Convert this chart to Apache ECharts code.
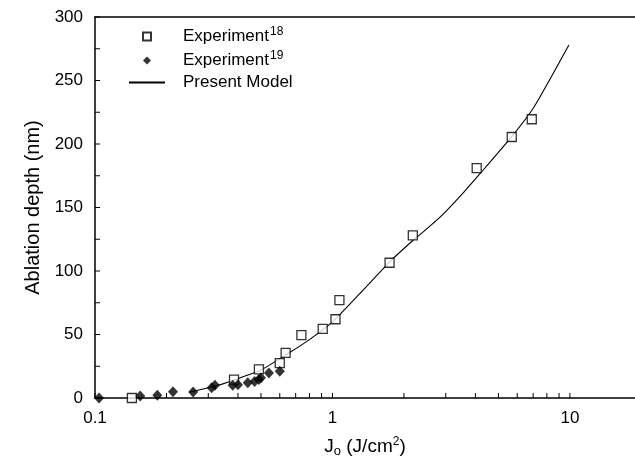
<!DOCTYPE html>
<html>
<head>
<meta charset="utf-8">
<script src="https://cdn.jsdelivr.net/npm/echarts@6/dist/echarts.min.js"></script>
<style>
html,body{margin:0;padding:0;background:#fff;}
#c{width:635px;height:468px;}
</style>
</head>
<body>
<div id="c"></div>
<script>
// ---- data ----
const exp18X = [0.143, 0.385, 0.49, 0.60, 0.635, 0.74, 0.91, 1.03, 1.07, 1.74, 2.18, 4.05, 5.69, 6.91];
const exp18Y = [0, 14.5, 22.5, 27.5, 35.5, 49.5, 54.5, 62, 77, 106.5, 128, 181, 205.5, 219.5];

const exp19X = [0.104, 0.155, 0.183, 0.213, 0.259, 0.31, 0.32, 0.38, 0.40, 0.44, 0.47, 0.49, 0.50, 0.54, 0.60];
const exp19Y = [0, 1.5, 2.2, 5, 4.7, 8, 10, 10, 10.5, 12, 13, 14.5, 16, 19.7, 21];

const modelX = [0.25, 0.33, 0.41, 0.5, 0.65, 0.8, 1.0, 1.3, 1.76, 2.18, 2.35, 2.86, 3.57, 4.2, 5.64, 7.05, 9.9];
const modelY = [4.5, 10, 16, 22, 35, 46, 60, 82, 108, 124, 129, 143, 162, 177, 205, 229, 278];

const xTickValues = [0.1,0.2,0.3,0.4,0.5,0.6,0.7,0.8,0.9,1,2,3,4,5,6,7,8,9,10];
const xLabelValues = [0.1, 1, 10];
const yTickValues = [0,25,50,75,100,125,150,175,200,225,250,275,300];

const seriesNames = ['Experiment18', 'Experiment19', 'Present Model'];

const zip = (xs, ys) => xs.map((x, i) => [x, ys[i]]);
const FONT = 'Liberation Sans';
const TICK_LEN = 5;

// tick marks drawn through the axes' own scales
const tickData = xTickValues.map(v => [v, 0, 0]).concat(yTickValues.map(v => [0.1, v, 1]));

const chart = echarts.init(document.getElementById('c'), null, {renderer: 'canvas'});
chart.setOption({
  animation: false,
  backgroundColor: '#fff',
  textStyle: {fontFamily: FONT, color: '#000'},
  grid: {left: 95, right: 0, top: 17, bottom: 70, containLabel: false},
  legend: {
    orient: 'vertical',
    left: 123, top: 21,
    itemWidth: 36, itemHeight: 8, itemGap: 5,
    data: [
      {name: seriesNames[0], icon: 'path://M0,0L10,0L10,10L0,10Z'},
      {name: seriesNames[1], icon: 'path://M5,0L10,5L5,10L0,5Z'},
      {name: seriesNames[2], itemStyle: {opacity: 0}}
    ],
    formatter: function (n) {
      if (n === 'Experiment18') return 'Experiment{sup|18}';
      if (n === 'Experiment19') return 'Experiment{sup|19}';
      return n;
    },
    textStyle: {
      fontFamily: FONT, fontSize: 17, color: '#000', padding: [0, 0, 0, 13],
      rich: {sup: {fontFamily: FONT, fontSize: 12, color: '#000', padding: [0, 0, 9, 1]}}
    }
  },
  xAxis: [{
    type: 'log', logBase: 10, min: 0.1, max: 18.8, position: 'bottom',
    name: '{b|J}{sub|o}{b| (J/cm}{sup|2}{b|)}',
    nameLocation: 'middle', nameGap: 38,
    nameTextStyle: {
      rich: {
        b: {fontFamily: FONT, fontSize: 19, color: '#000'},
        sub: {fontFamily: FONT, fontSize: 13, color: '#000', padding: [9, 0, 0, 0]},
        sup: {fontFamily: FONT, fontSize: 12, color: '#000', padding: [0, 0, 10, 0]}
      }
    },
    axisLine: {show: true, lineStyle: {color: '#000', width: 1.5}},
    axisTick: {show: false},
    axisLabel: {customValues: xLabelValues, fontSize: 17, color: '#000', fontFamily: FONT, margin: 12,
      formatter: v => String(v)},
    splitLine: {show: false}
  }, {
    type: 'log', logBase: 10, min: 0.1, max: 18.8, position: 'top',
    axisLine: {show: true, lineStyle: {color: '#000', width: 1.5}},
    axisTick: {show: false}, axisLabel: {show: false}, splitLine: {show: false}
  }],
  yAxis: {
    type: 'value', min: 0, max: 300, interval: 50,
    name: 'Ablation depth (nm)', nameLocation: 'middle', nameGap: 50,
    nameTextStyle: {fontFamily: FONT, fontSize: 20, color: '#000'},
    axisLine: {show: true, lineStyle: {color: '#000', width: 1.5}},
    axisTick: {show: false},
    axisLabel: {fontSize: 17, color: '#000', fontFamily: FONT, margin: 12},
    splitLine: {show: false}
  },
  series: [
    {
      name: 'ticks', type: 'custom', silent: true, clip: false, z: 1,
      data: tickData,
      encode: {x: 0, y: 1},
      renderItem: function (params, api) {
        const p = api.coord([api.value(0), api.value(1)]);
        const vertical = api.value(2) === 0;
        return {
          type: 'line',
          shape: vertical
            ? {x1: p[0], y1: p[1], x2: p[0], y2: p[1] - TICK_LEN}
            : {x1: p[0], y1: p[1], x2: p[0] + TICK_LEN, y2: p[1]},
          style: {stroke: '#000', lineWidth: 1}
        };
      }
    },
    {
      name: seriesNames[0], type: 'scatter', symbol: 'rect', symbolSize: 9,
      data: zip(exp18X, exp18Y),
      itemStyle: {color: '#fff', borderColor: '#000', borderWidth: 1.3},
      z: 3
    },
    {
      name: seriesNames[1], type: 'scatter', symbol: 'diamond', symbolSize: [10, 11],
      data: zip(exp19X, exp19Y),
      itemStyle: {color: '#000'},
      z: 4
    },
    {
      name: seriesNames[2], type: 'line', symbol: 'none', smooth: 0.2,
      data: zip(modelX, modelY),
      lineStyle: {color: '#000', width: 1.1},
      itemStyle: {color: '#000'},
      z: 2
    }
  ]
});
</script>
</body>
</html>
